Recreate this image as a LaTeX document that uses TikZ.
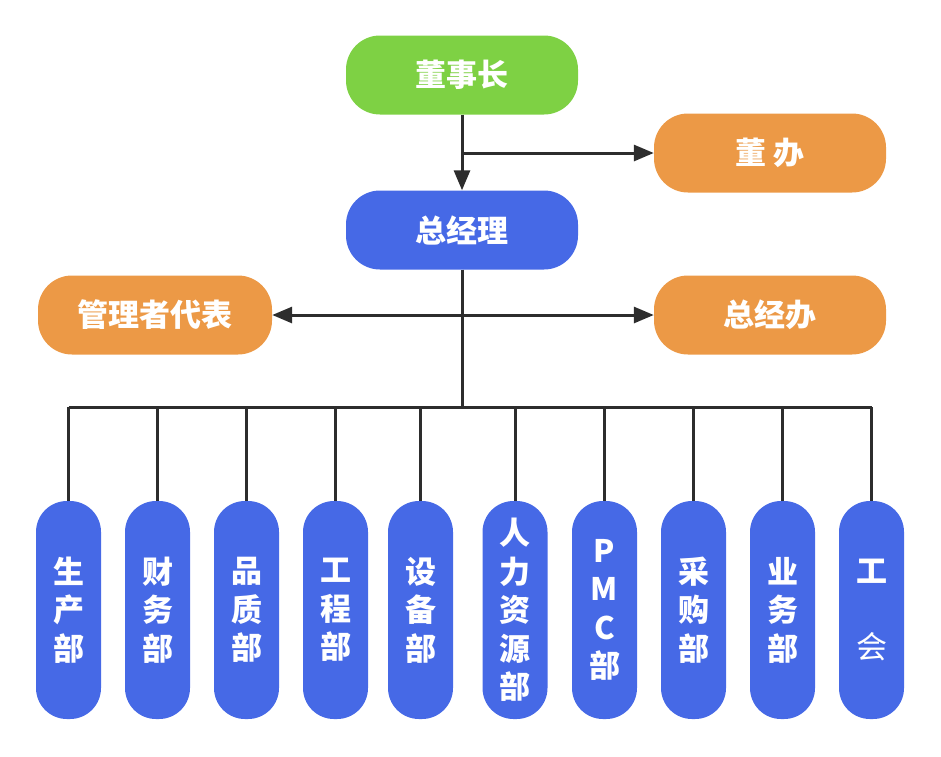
\documentclass[tikz,border=0pt]{standalone}
\usepackage{fontspec}
\newfontfamily\cjk{Noto Sans CJK SC}
\usetikzlibrary{arrows.meta}
\definecolor{cgreen}{RGB}{126,209,68}
\definecolor{corange}{RGB}{236,153,70}
\definecolor{cblue}{RGB}{70,105,230}
\definecolor{lc}{RGB}{45,45,45}
\begin{document}
\begin{tikzpicture}[x=1pt,y=-1pt]
\tikzset{
  box/.style={rounded corners=34pt, minimum width=232pt, minimum height=79pt, text=white,
    font=\cjk\bfseries\fontsize{31}{38}\selectfont, inner sep=0pt},
  col/.style={fill=cblue, rounded corners=31pt, minimum width=65pt, minimum height=218pt, text=white,
    font=\cjk\bfseries\fontsize{31}{38.5}\selectfont, align=center, inner sep=0pt},
  conn/.style={draw=lc, line width=3pt},
  arr/.style={-{Triangle[length=20pt,width=16pt]}},
  darr/.style={{Triangle[length=20pt,width=16pt]}-{Triangle[length=20pt,width=16pt]}}
}
\useasboundingbox (0,0) rectangle (941,756);
\node[box, fill=cgreen] (dsz) at (462,75) {董事长};
\node[box, fill=corange] (db) at (770,153) {董 办};
\node[box, fill=cblue] (zjl) at (462,230) {总经理};
\node[box, fill=corange, minimum width=234pt] (glz) at (155,315) {管理者代表};
\node[box, fill=corange] (zjb) at (770,315) {总经办};

\node[col] (c1) at (68.5,610) {生\\产\\部};
\node[col] (c2) at (157.5,610) {财\\务\\部};
\node[col] (c3) at (246.5,610) {品\\质\\部};
\node[col] (c4) at (335.5,610) {工\\程\\部};
\node[col] (c5) at (420.5,610) {设\\备\\部};
\node[col] (c6) at (515,610) {人\\力\\资\\源\\部};
\node[col] (c7) at (604.5,610) {P\\M\\C\\部};
\node[col] (c8) at (693.5,610) {采\\购\\部};
\node[col] (c9) at (782.5,610) {业\\务\\部};
\node[col] (c10) at (871.5,610) {工\\[38pt]{\mdseries 会}};

\coordinate (b1) at (462,153);
\coordinate (bus) at (462,407);
\draw[conn,arr] (dsz.south) -- (zjl.north);
\draw[conn,arr] (b1) -- (db.west);
\draw[conn] (zjl.south) -- (bus);
\draw[conn,darr] (glz.east) -- (zjb.west);
\draw[conn] (c1.north |- bus) -- (c10.north |- bus);
\foreach \i in {1,...,10}{
  \draw[conn] (c\i.north |- bus) -- (c\i.north);
}
\end{tikzpicture}
\end{document}
